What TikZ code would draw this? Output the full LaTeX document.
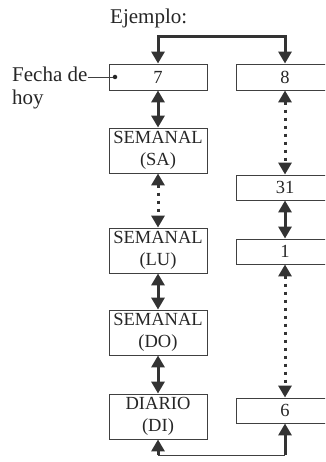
\documentclass[tikz,border=0pt]{standalone}
\usepackage{fontspec}
\setmainfont{Liberation Serif}
\usetikzlibrary{arrows.meta}

\begin{document}
\begin{tikzpicture}[
        x=1pt,
        y=-1pt,
        box/.style={draw=black!75,line width=0.9pt,minimum width=98pt,inner sep=0pt,
            align=center,text=black!85,font=\fontsize{18.5}{21.5}\selectfont},
        link/.style={line width=3pt,draw=black!80,
            {Triangle[width=13pt,length=12pt]}-{Triangle[width=13pt,length=12pt]}},
        gap/.style={link,dash pattern=on 3pt off 5pt},
        txt/.style={inner sep=0pt,text=black!85,font=\fontsize{21}{24}\selectfont}
    ]
    \useasboundingbox (0,0) rectangle (325,462);
    \clip (0,0) rectangle (325,462);

    \node[txt,anchor=base west] (ej) at (110,24) {Ejemplo:};
    \node[txt,anchor=base west] (fecha) at (12,82) {Fecha de};
    \node[txt,anchor=base west] (hoy) at (12,105) {hoy};

    % left column
    \node[box,minimum height=26pt] (d7) at (158,77) {7};
    \node[box,minimum height=45pt] (sa) at (158,150.5) {SEMANAL\\(SA)};
    \node[box,minimum height=45pt] (lu) at (158,250.5) {SEMANAL\\(LU)};
    \node[box,minimum height=45pt] (do) at (158,332.5) {SEMANAL\\(DO)};
    \node[box,minimum height=45pt] (di) at (158,416.5) {DIARIO\\(DI)};

    % right column
    \node[box,minimum height=26pt] (d8) at (285,77) {8};
    \node[box,minimum height=25pt] (d31) at (285,187.5) {31};
    \node[box,minimum height=25pt] (d1) at (285,251.5) {1};
    \node[box,minimum height=25pt] (d6) at (285,410.5) {6};

    \node[circle,fill=black!85,inner sep=0pt,minimum size=4.5pt] (dot) at (115,77) {};
    \draw[black!75,line width=0.8pt] (fecha.east |- dot) -- (dot);

    \coordinate (top) at (220,37);
    \draw[link] (d7) |- (top) -| (d8);

    \draw[link] (d7) -- (sa);
    \draw[gap] (sa) -- (lu);
    \draw[link] (lu) -- (do);
    \draw[link] (do) -- (di);

    \draw[gap] (d8) -- (d31);
    \draw[link] (d31) -- (d1);
    \draw[gap] (d1) -- (d6);

    \coordinate (b1) at (158,455);
    \coordinate (b2) at (285,455);
    \draw[black!75,line width=0.8pt] (b1) -- (b2);
    \draw[link,-{Triangle[width=13pt,length=12pt]}] (b1) -- (di);
    \draw[link,-{Triangle[width=13pt,length=12pt]}] (b2) -- (d6);
\end{tikzpicture}
\end{document}
